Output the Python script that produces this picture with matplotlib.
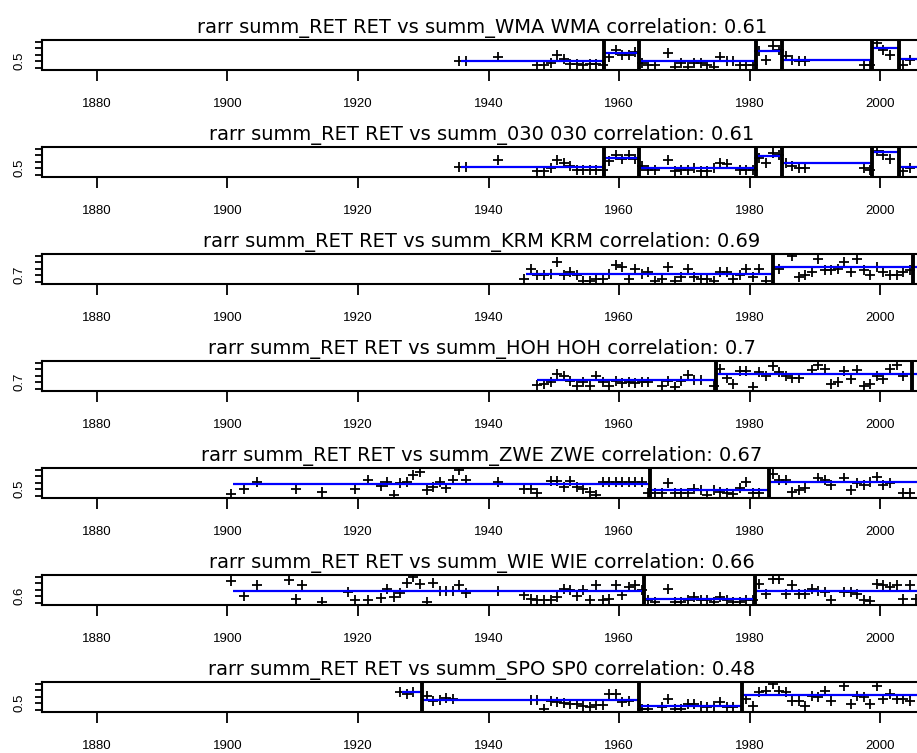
import numpy as np
import matplotlib.pyplot as plt

plt.close('all')

# --- summer series per station (year, value), breakpoints and segment means ---
wma_years = [1935, 1936, 1941, 1947, 1948, 1949, 1950, 1951, 1952, 1953, 1954, 1955, 1956, 1957,
             1958, 1959, 1960, 1961, 1962,
             1963, 1964, 1965, 1967, 1968, 1969, 1970, 1971, 1972, 1973, 1974, 1975, 1976, 1977,
             1978, 1979, 1980,
             1981, 1982, 1983, 1984,
             1985, 1986, 1987, 1988, 1997, 1998,
             1999, 2000, 2001,
             2003, 2004]
wma_vals = [0.50, 0.50, 0.53, 0.47, 0.47, 0.49, 0.55, 0.52, 0.48, 0.48, 0.47, 0.48, 0.48, 0.47,
            0.53, 0.59, 0.55, 0.55, 0.57,
            0.49, 0.47, 0.47, 0.56, 0.46, 0.49, 0.46, 0.49, 0.49, 0.47, 0.46, 0.53, 0.50, 0.50,
            0.47, 0.47, 0.47,
            0.575, 0.51, 0.62, 0.59,
            0.54, 0.51, 0.50, 0.50, 0.475, 0.47,
            0.64, 0.59, 0.55,
            0.475, 0.51]
wma_breaks = [1957.7, 1963.0, 1981.0, 1985.0, 1998.8, 2002.9]
wma_edges = [1935.8, 1957.7, 1963.0, 1981.0, 1985.0, 1998.8, 2002.9, 2010]
wma_means = [0.50, 0.563, 0.50, 0.575, 0.513, 0.60, 0.515]

s030_years = [1935, 1936, 1941, 1947, 1948, 1949, 1950, 1951, 1952, 1953, 1954, 1955, 1956, 1957,
              1958, 1959, 1960, 1961, 1962,
              1963, 1964, 1965, 1967, 1968, 1969, 1970, 1971, 1972, 1973, 1974, 1975, 1976, 1978,
              1979, 1980,
              1981, 1982, 1983, 1984,
              1985, 1986, 1987, 1988, 1997, 1998,
              1999, 2000, 2001,
              2003, 2004]
s030_vals = [0.51, 0.51, 0.56, 0.48, 0.48, 0.505, 0.56, 0.54, 0.52, 0.485, 0.485, 0.485, 0.485, 0.49,
             0.555, 0.605, 0.57, 0.60, 0.57,
             0.52, 0.485, 0.49, 0.56, 0.48, 0.485, 0.49, 0.505, 0.48, 0.48, 0.50, 0.54, 0.53, 0.49,
             0.49, 0.485,
             0.58, 0.54, 0.62, 0.605,
             0.54, 0.52, 0.505, 0.505, 0.50, 0.485,
             0.63, 0.605, 0.57,
             0.48, 0.505]
s030_breaks = [1957.7, 1963.0, 1980.9, 1985.0, 1998.8, 2002.9]
s030_edges = [1935.8, 1957.7, 1963.0, 1980.9, 1985.0, 1998.8, 2002.9, 2010]
s030_means = [0.513, 0.575, 0.50, 0.593, 0.538, 0.623, 0.513]

krm_years = [1945, 1946, 1947, 1948, 1949, 1950, 1951, 1952, 1953, 1954, 1955, 1956, 1957, 1958,
             1959, 1960, 1961, 1962, 1963, 1964, 1965, 1966, 1967, 1968, 1969, 1970, 1971, 1972,
             1973, 1974, 1975, 1976, 1977, 1978, 1979, 1980, 1981, 1982,
             1984, 1986, 1987, 1988, 1989, 1990, 1991, 1992, 1993, 1994, 1995, 1996, 1997, 1998,
             1999, 2000, 2001, 2002, 2003, 2004]
krm_vals = [0.67, 0.75, 0.70, 0.70, 0.71, 0.80, 0.70, 0.725, 0.70, 0.66, 0.66, 0.675, 0.675, 0.71,
            0.775, 0.763, 0.675, 0.75, 0.713, 0.725, 0.66, 0.675, 0.763, 0.66, 0.688, 0.75, 0.688,
            0.675, 0.675, 0.66, 0.725, 0.725, 0.675, 0.70, 0.75, 0.688, 0.75, 0.66,
            0.75, 0.85, 0.688, 0.70, 0.725, 0.825, 0.738, 0.738, 0.75, 0.80, 0.725, 0.825, 0.738,
            0.70, 0.763, 0.725, 0.70, 0.70, 0.725, 0.738]
krm_breaks = [1983.6, 2005.0]
krm_edges = [1945.7, 1983.6, 2010]
krm_means = [0.713, 0.763]

hoh_years = [1947, 1948, 1949, 1950, 1951, 1952, 1953, 1954, 1955, 1956, 1957, 1958, 1959, 1960,
             1961, 1962, 1963, 1964, 1966, 1967, 1968, 1969, 1970, 1971, 1972, 1974,
             1975, 1976, 1977, 1978, 1979, 1980, 1981, 1982, 1983, 1984, 1985, 1986, 1987, 1989,
             1990, 1991, 1992, 1993, 1994, 1995, 1996, 1997, 1998, 1999, 2000, 2001, 2002, 2003]
hoh_vals = [0.683, 0.688, 0.70, 0.763, 0.745, 0.713, 0.675, 0.70, 0.675, 0.745, 0.70, 0.675, 0.713,
            0.695, 0.70, 0.695, 0.70, 0.705, 0.675, 0.713, 0.663, 0.713, 0.755, 0.72, 0.72, 0.675,
            0.80, 0.73, 0.688, 0.788, 0.788, 0.663, 0.775, 0.745, 0.825, 0.775, 0.745, 0.73, 0.73,
            0.793, 0.83, 0.80, 0.688, 0.70, 0.788, 0.725, 0.793, 0.675, 0.688, 0.745, 0.725, 0.80,
            0.83, 0.745]
hoh_breaks = [1974.8, 2004.9]
hoh_edges = [1947.4, 1974.8, 2010]
hoh_means = [0.72, 0.763]

zwe_years = [1900, 1902, 1904, 1910, 1914, 1919, 1921, 1923, 1924, 1925, 1926, 1927, 1928, 1929,
             1930, 1931, 1932, 1933, 1934, 1935, 1936, 1941, 1945, 1946, 1947, 1949, 1950, 1951,
             1952, 1953, 1954, 1955, 1956, 1957, 1958, 1959, 1960, 1961, 1962, 1963, 1964,
             1965, 1966, 1967, 1968, 1969, 1970, 1971, 1972, 1973, 1974, 1975, 1976, 1977, 1978,
             1979, 1980, 1981,
             1983, 1984, 1985, 1986, 1987, 1988, 1990, 1991, 1992, 1994, 1995, 1996, 1997, 1998,
             1999, 2000, 2001, 2003, 2004]
zwe_vals = [0.463, 0.503, 0.558, 0.503, 0.483, 0.503, 0.57, 0.528, 0.553, 0.458, 0.545, 0.558,
            0.608, 0.633, 0.495, 0.52, 0.553, 0.508, 0.57, 0.645, 0.57, 0.558, 0.503, 0.503, 0.47,
            0.563, 0.563, 0.52, 0.563, 0.52, 0.503, 0.483, 0.458, 0.553, 0.553, 0.553, 0.553,
            0.553, 0.558, 0.553, 0.47,
            0.47, 0.47, 0.545, 0.47, 0.47, 0.47, 0.503, 0.495, 0.458, 0.495, 0.483, 0.47, 0.463,
            0.508, 0.558, 0.47, 0.47,
            0.62, 0.57, 0.57, 0.483, 0.495, 0.508, 0.583, 0.57, 0.533, 0.588, 0.495, 0.545, 0.533,
            0.558, 0.595, 0.533, 0.545, 0.47, 0.47]
zwe_breaks = [1964.8, 1982.9]
zwe_edges = [1900.8, 1964.8, 1982.9, 2010]
zwe_means = [0.54, 0.495, 0.558]

wie_years = [1900, 1902, 1904, 1909, 1910, 1911, 1914, 1918, 1919, 1921, 1923, 1924, 1925, 1926,
             1927, 1928, 1929, 1930, 1931, 1932, 1933, 1934, 1935, 1936, 1941, 1945, 1946, 1947,
             1948, 1949, 1950, 1951, 1952, 1953, 1954, 1955, 1956, 1957, 1958, 1959, 1960, 1961,
             1962, 1963,
             1964, 1965, 1967, 1968, 1969, 1970, 1971, 1972, 1973, 1974, 1975, 1976, 1977, 1978,
             1979, 1980,
             1981, 1982, 1983, 1984, 1985, 1986, 1987, 1988, 1989, 1990, 1991, 1992, 1994, 1995,
             1996, 1997, 1998, 1999, 2000, 2001, 2002, 2003, 2004, 2005]
wie_vals = [0.72, 0.60, 0.683, 0.725, 0.583, 0.683, 0.558, 0.633, 0.57, 0.575, 0.59, 0.658, 0.595,
            0.625, 0.70, 0.75, 0.695, 0.558, 0.70, 0.64, 0.64, 0.64, 0.683, 0.625, 0.64, 0.608,
            0.583, 0.57, 0.57, 0.57, 0.595, 0.658, 0.65, 0.60, 0.645, 0.57, 0.683, 0.57, 0.583,
            0.683, 0.608, 0.67, 0.683, 0.65,
            0.57, 0.558, 0.658, 0.558, 0.558, 0.57, 0.595, 0.57, 0.57, 0.558, 0.595, 0.57, 0.558,
            0.558, 0.57, 0.57,
            0.695, 0.62, 0.733, 0.733, 0.62, 0.683, 0.62, 0.62, 0.658, 0.64, 0.633, 0.57, 0.633,
            0.633, 0.62, 0.57, 0.565, 0.695, 0.683, 0.67, 0.683, 0.583, 0.683, 0.583]
wie_breaks = [1963.8, 1980.8]
wie_edges = [1900.8, 1963.8, 1980.8, 2010]
wie_means = [0.64, 0.583, 0.64]

spo_years = [1926, 1927, 1928,
             1930, 1931, 1932, 1933, 1934, 1946, 1947, 1948, 1949, 1950, 1951, 1952, 1953, 1954,
             1955, 1956, 1957, 1958, 1959, 1960, 1961,
             1963, 1964, 1966, 1967, 1968, 1969, 1970, 1971, 1972, 1973, 1974, 1975, 1976, 1977,
             1979, 1980, 1981, 1982, 1983, 1984, 1985, 1986, 1987, 1988, 1989, 1990, 1991, 1992,
             1994, 1995, 1996, 1997, 1998, 1999, 2000, 2001, 2002, 2003, 2004]
spo_vals = [0.588, 0.57, 0.583,
            0.553, 0.52, 0.528, 0.538, 0.533, 0.528, 0.528, 0.458, 0.52, 0.508, 0.503, 0.495,
            0.495, 0.483, 0.47, 0.488, 0.488, 0.57, 0.57, 0.508, 0.52,
            0.458, 0.458, 0.47, 0.533, 0.458, 0.458, 0.495, 0.495, 0.483, 0.47, 0.483, 0.508,
            0.47, 0.47,
            0.533, 0.483, 0.583, 0.595, 0.645, 0.595, 0.583, 0.52, 0.52, 0.483, 0.558, 0.545,
            0.595, 0.52, 0.633, 0.495, 0.558, 0.545, 0.495, 0.633, 0.533, 0.57, 0.533, 0.533,
            0.52]
spo_breaks = [1929.8, 1963.0, 1978.9]
spo_edges = [1926.7, 1929.8, 1963.0, 1978.9, 2010]
spo_means = [0.588, 0.528, 0.483, 0.563]

panels = [
    ('WMA', 'WMA', 0.61, 0.5, wma_years, wma_vals, wma_breaks, wma_edges, wma_means),
    ('030', '030', 0.61, 0.5, s030_years, s030_vals, s030_breaks, s030_edges, s030_means),
    ('KRM', 'KRM', 0.69, 0.7, krm_years, krm_vals, krm_breaks, krm_edges, krm_means),
    ('HOH', 'HOH', 0.7, 0.7, hoh_years, hoh_vals, hoh_breaks, hoh_edges, hoh_means),
    ('ZWE', 'ZWE', 0.67, 0.5, zwe_years, zwe_vals, zwe_breaks, zwe_edges, zwe_means),
    ('WIE', 'WIE', 0.66, 0.6, wie_years, wie_vals, wie_breaks, wie_edges, wie_means),
    ('SPO', 'SP0', 0.48, 0.5, spo_years, spo_vals, spo_breaks, spo_edges, spo_means),
]

x_ticks = [1880, 1900, 1920, 1940, 1960, 1980, 2000]
step = 0.05

W, H = 917, 753
fig = plt.figure(figsize=(W / 100, H / 100), dpi=100)

for i, (code, short, corr, lab, yrs, vals, brks, edges, means) in enumerate(panels):
    top = 40 + 107.0 * i
    ax = fig.add_axes([42 / W, 1 - (top + 29.5) / H, 880 / W, 29.5 / H])
    ax.set_xlim(1871.6, 2006.4)
    ax.set_ylim(lab - 1.25 * step, lab + 3.25 * step)

    # annual values sit at mid-year
    ax.plot(np.array(yrs) + 0.5, vals, ls='none', marker='+', ms=6.5, mew=1.3, color='black')
    for x0, x1, m in zip(edges[:-1], edges[1:], means):
        ax.plot([x0, x1], [m, m], color='#0000ff', lw=1.6, solid_capstyle='butt')
    for b in brks:
        ax.axvline(b, color='black', lw=2.8)

    ax.set_title(f'rarr summ_RET RET vs summ_{code} {short} correlation: {corr}',
                 fontsize=14, family='DejaVu Sans', pad=5)

    ax.set_xticks(x_ticks)
    ax.set_xticklabels([str(t) for t in x_ticks], family='Liberation Sans', fontsize=9.5)
    yt = [lab - step + k * step for k in range(5)]
    ax.set_yticks(yt)
    ax.set_yticklabels(['' if k != 1 else f'{lab:g}' for k in range(5)],
                       rotation=90, va='center', family='Liberation Sans', fontsize=9.5)
    ax.tick_params(axis='x', length=7.7, width=1.3, pad=13)
    ax.tick_params(axis='y', length=5, width=1.3, pad=7)
    for sp in ax.spines.values():
        sp.set_linewidth(1.5)

fig.savefig('out.png', dpi=100)
